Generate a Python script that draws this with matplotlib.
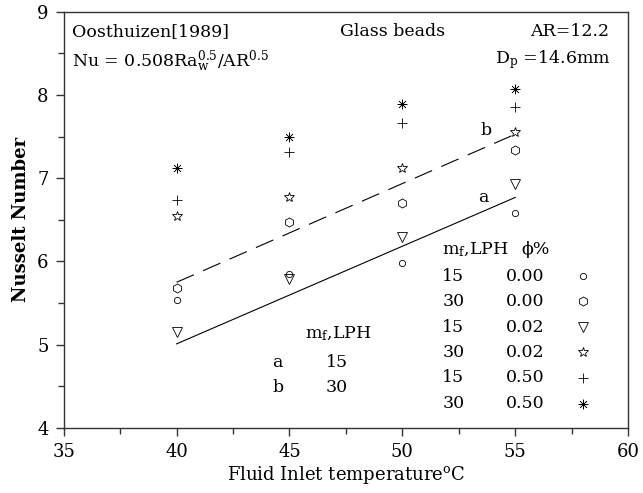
import matplotlib
matplotlib.use("Agg")
import matplotlib.pyplot as plt
from matplotlib.ticker import MultipleLocator

plt.rcParams['font.family'] = ['DejaVu Serif']
plt.rcParams['mathtext.fontset'] = 'dejavuserif'

# data
temps = [40, 45, 50, 55]
flow = [15, 30, 15, 30, 15, 30]          # m_f, LPH
phi = ["0.00", "0.00", "0.02", "0.02", "0.50", "0.50"]
nu = [
    [5.54, 5.85, 5.98, 6.58],   # 15 LPH, 0.00
    [5.68, 6.48, 6.70, 7.34],   # 30 LPH, 0.00
    [5.15, 5.79, 6.30, 6.93],   # 15 LPH, 0.02
    [6.55, 6.78, 7.12, 7.56],   # 30 LPH, 0.02
    [6.74, 7.31, 7.67, 7.86],   # 15 LPH, 0.50
    [7.12, 7.49, 7.89, 8.07],   # 30 LPH, 0.50
]
# Oosthuizen correlation lines
line_x = [40, 55]
line_a = [5.01, 6.77]   # 15 LPH
line_b = [5.75, 7.53]   # 30 LPH

markers = ['o', 'h', 'v', '*', '+', (8, 2, 0)]
sizes = [4.5, 6.5, 7, 7, 6.5, 7]
widths = [0.6, 0.6, 0.6, 0.6, 0.6, 0.45]

fig = plt.figure(figsize=(6.43, 4.93), dpi=100)
ax = fig.add_axes([0.099, 0.132, 0.878, 0.844])

for i in range(len(nu)):
    ax.plot(temps, nu[i], linestyle='none', marker=markers[i], ms=sizes[i],
            mfc='none', mec='black', mew=widths[i], color='black')

ax.plot(line_x, line_a, color='black', lw=0.8)
ax.plot(line_x, line_b, color='black', lw=0.8, dashes=(17, 9))

ax.set_xlim(35, 60)
ax.set_ylim(4, 9)
ax.xaxis.set_major_locator(MultipleLocator(5))
ax.xaxis.set_minor_locator(MultipleLocator(2.5))
ax.yaxis.set_major_locator(MultipleLocator(1))
ax.yaxis.set_minor_locator(MultipleLocator(0.5))
ax.tick_params(which='major', direction='out', length=6, width=1, labelsize=13,
               color='#333333', pad=5)
ax.tick_params(which='minor', direction='out', length=4, width=1, color='#333333')
for s in ax.spines.values():
    s.set_color('#333333')
    s.set_linewidth(1)

ax.set_xlabel("Fluid Inlet temperature$^{\\mathrm{o}}$C", fontsize=13, labelpad=2)
ax.set_ylabel("Nusselt Number", fontsize=13, fontweight='bold', labelpad=5)

fs = 12.5
ax.text(35.35, 8.76, "Oosthuizen[1989]", fontsize=fs, va='center')
ax.text(35.35, 8.40, "Nu = 0.508Ra$_{\\mathrm{w}}^{0.5}$/AR$^{0.5}$", fontsize=fs, va='center')
ax.text(49.56, 8.76, "Glass beads", fontsize=fs, va='center', ha='center')
ax.text(59.15, 8.76, "AR=12.2", fontsize=fs, va='center', ha='right')
ax.text(59.2, 8.43, "D$_{\\mathrm{p}}$ =14.6mm", fontsize=fs, va='center', ha='right')
ax.text(53.35, 6.77, "a", fontsize=fs, va='center')
ax.text(53.45, 7.57, "b", fontsize=fs, va='center')

# legend table (right)
ax.text(51.77, 6.14, "m$_{\\mathrm{f}}$,LPH", fontsize=fs, va='center')
ax.text(55.9, 6.14, "ϕ%", fontsize=fs, va='center', ha='center')
row_y = [5.82, 5.52, 5.21, 4.91, 4.60, 4.29]
for i in range(len(flow)):
    ax.text(51.77, row_y[i], str(flow[i]), fontsize=fs, va='center')
    ax.text(55.45, row_y[i], phi[i], fontsize=fs, va='center', ha='center')
    ax.plot([58.0], [row_y[i]], linestyle='none', marker=markers[i], ms=sizes[i],
            mfc='none', mec='black', mew=widths[i])

# legend table (lines)
ax.text(45.7, 5.13, "m$_{\\mathrm{f}}$,LPH", fontsize=fs, va='center')
ax.text(44.25, 4.79, "a", fontsize=fs, va='center')
ax.text(47.1, 4.79, "15", fontsize=fs, va='center', ha='center')
ax.text(44.25, 4.49, "b", fontsize=fs, va='center')
ax.text(47.1, 4.49, "30", fontsize=fs, va='center', ha='center')

fig.savefig("out.png", dpi=100)
